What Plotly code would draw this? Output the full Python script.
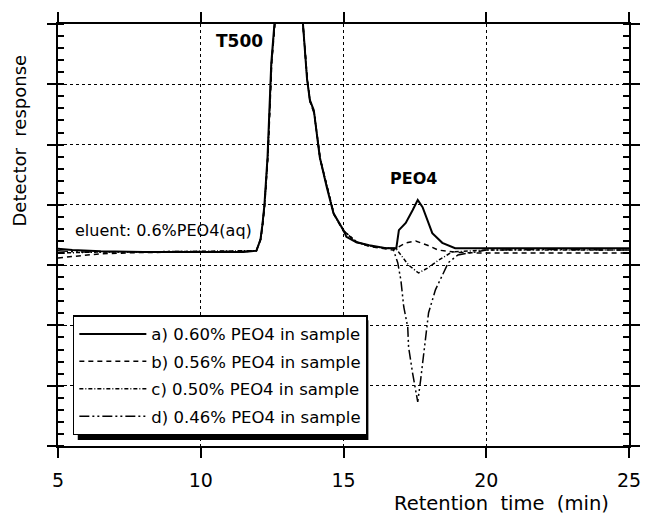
import plotly.graph_objects as go

# ---------------- data ----------------
# a) 0.60% PEO4 in sample  (solid)
time_a = [5.0, 5.5, 6.5, 8.0, 10.0, 11.5, 11.95, 12.09, 12.16, 12.23, 12.34, 12.42, 12.47, 12.58,
          12.8, 13.2, 13.58, 13.72, 13.82, 13.96, 14.17, 14.41, 14.65, 15.0, 15.1,
          15.45, 15.9, 16.49, 16.85, 16.94, 17.18, 17.42, 17.6, 17.77, 17.94, 18.11, 18.46, 18.91,
          20.0, 22.0, 25.0]
resp_a = [3.27, 3.25, 3.23, 3.22, 3.22, 3.22, 3.24, 3.42, 3.67, 4.0, 4.8, 5.6, 6.35, 7.0,
          7.6, 7.8, 7.0, 6.1, 5.74, 5.57, 4.79, 4.30, 3.86, 3.58, 3.47,
          3.38, 3.33, 3.28, 3.28, 3.58, 3.70, 3.91, 4.08, 3.96, 3.75, 3.53, 3.37, 3.28,
          3.28, 3.28, 3.28]

# b) 0.56% PEO4 in sample  (dashed)
time_b = [5.0, 5.6, 6.5, 8.0, 10.0, 11.5, 11.95, 12.11, 12.18, 12.25, 12.36, 12.43, 12.49, 12.6,
          13.0, 13.58, 13.74, 13.84, 13.98, 14.19, 14.43, 14.67, 15.0, 15.45, 15.9, 16.49,
          16.73, 17.18, 17.53, 17.94, 18.32, 19.0, 20.0, 22.0, 25.0]
resp_b = [3.12, 3.15, 3.19, 3.21, 3.22, 3.22, 3.24, 3.45, 3.7, 4.05, 4.85, 5.65, 6.38, 7.0,
          7.8, 7.0, 6.05, 5.7, 5.5, 4.75, 4.27, 3.84, 3.56, 3.39, 3.31, 3.26,
          3.25, 3.37, 3.40, 3.33, 3.25, 3.21, 3.2, 3.2, 3.2]

# c) 0.50% PEO4 in sample  (dash-dot)
time_c = [5.0, 5.6, 6.5, 8.0, 10.0, 11.5, 11.95, 12.1, 12.17, 12.24, 12.35, 12.43, 12.48, 12.59,
          13.0, 13.58, 13.73, 13.83, 13.97, 14.18, 14.42, 14.66, 15.0, 15.45, 15.9, 16.49,
          16.83, 17.08, 17.28, 17.63, 17.94, 18.32, 18.81, 20.0, 22.0, 25.0]
resp_c = [3.2, 3.21, 3.22, 3.22, 3.23, 3.23, 3.24, 3.43, 3.68, 4.02, 4.82, 5.62, 6.36, 7.0,
          7.8, 7.0, 6.08, 5.72, 5.54, 4.77, 4.29, 3.85, 3.57, 3.38, 3.32, 3.28,
          3.28, 3.13, 3.0, 2.87, 2.95, 3.08, 3.22, 3.25, 3.25, 3.25]

# d) 0.46% PEO4 in sample  (long dash-dot-dot)
time_d = [5.0, 5.6, 6.5, 8.0, 10.0, 11.5, 11.95, 12.1, 12.17, 12.24, 12.35, 12.43, 12.48, 12.59,
          13.0, 13.58, 13.73, 13.83, 13.97, 14.18, 14.42, 14.66, 15.0, 15.45, 15.9, 16.49,
          16.73, 16.9, 17.01, 17.11, 17.25, 17.28, 17.42, 17.53, 17.6, 17.7, 17.87, 17.98, 18.22,
          18.39, 18.67, 19.01, 20.0, 22.0, 25.0]
resp_d = [3.24, 3.22, 3.22, 3.22, 3.23, 3.23, 3.24, 3.44, 3.69, 4.03, 4.83, 5.63, 6.37, 7.0,
          7.8, 7.0, 6.07, 5.71, 5.53, 4.76, 4.29, 3.85, 3.57, 3.39, 3.32, 3.28,
          3.28, 3.04, 2.75, 2.31, 1.97, 1.64, 1.21, 0.88, 0.73, 1.09, 1.76, 2.21, 2.59,
          2.75, 3.04, 3.17, 3.25, 3.26, 3.25]

series_names = ["a) 0.60% PEO4 in sample", "b) 0.56% PEO4 in sample",
                "c) 0.50% PEO4 in sample", "d) 0.46% PEO4 in sample"]
x_ticks = [5, 10, 15, 20, 25]
x_tick_labels = ["5", "10", "15", "20", "25"]

# ---------------- figure ----------------
FONT = "DejaVu Sans"
styles = [
    dict(dash="solid", width=2.0),
    dict(dash="5px,4px", width=1.5),
    dict(dash="4px,2px,1px,2px", width=1.5),
    dict(dash="10px,3px,2px,3px,2px,3px", width=1.5),
]
xs = [time_a, time_b, time_c, time_d]
ys = [resp_a, resp_b, resp_c, resp_d]

fig = go.Figure()
for i in range(4):
    fig.add_trace(go.Scatter(
        x=xs[i], y=ys[i], mode="lines", name=series_names[i],
        legendgroup=f"g{i}",
        line=dict(color="black", dash=styles[i]["dash"], width=styles[i]["width"]),
    ))

axis_common = dict(
    showline=True, linecolor="black", linewidth=2, mirror="allticks",
    showgrid=True, gridcolor="black", gridwidth=1, griddash="dot",
    zeroline=False, ticks="outside", tickcolor="black",
)

fig.update_xaxes(
    **axis_common, range=[5, 25], tickvals=x_ticks, ticktext=x_tick_labels,
    ticklen=10, tickwidth=2, ticklabelstandoff=6,
    tickfont=dict(family=FONT, size=19, color="black"),
)
fig.update_yaxes(
    **axis_common, range=[0, 7], dtick=1, tick0=0, showticklabels=False,
    ticklen=9, tickwidth=1.5,
    minor=dict(ticks="inside", dtick=0.2, tick0=0, ticklen=6, tickwidth=1.5,
               tickcolor="black", showgrid=False),
)

fig.update_layout(
    width=653, height=519,
    margin=dict(l=58, r=17, t=24, b=73),
    paper_bgcolor="white", plot_bgcolor="white",
    font=dict(family=FONT, color="black"),
    showlegend=True,
    legend=dict(
        x=0.026, y=0.31, xanchor="left", yanchor="top",
        bgcolor="white", bordercolor="black", borderwidth=1.5,
        font=dict(family=FONT, size=16.5, color="black"),
        tracegroupgap=3, traceorder="grouped", itemwidth=67,
    ),
    shapes=[
        # drop shadow of the legend box
        dict(type="rect", xref="paper", yref="paper", x0=0.0346, x1=0.5436, y0=0.0142, y1=0.298,
             fillcolor="black", line=dict(width=0), layer="above"),
    ],
    annotations=[
        dict(text="T500", x=11.35, y=6.72, xref="x", yref="y", showarrow=False,
             font=dict(family=FONT, size=17, color="black", weight="bold")),
        dict(text="PEO4", x=17.46, y=4.43, xref="x", yref="y", showarrow=False,
             font=dict(family=FONT, size=16, color="black", weight="bold")),
        dict(text="eluent: 0.6%PEO4(aq)", x=5.52, y=3.58, xref="x", yref="y",
             xanchor="left", yanchor="middle", showarrow=False,
             font=dict(family=FONT, size=16, color="black")),
        dict(text="Detector  response", x=-0.0675, y=0.725, xref="paper", yref="paper",
             xanchor="center", yanchor="middle", textangle=-90, showarrow=False,
             font=dict(family=FONT, size=18, color="black")),
        dict(text="Retention  time  (min)", x=0.969, y=-0.137, xref="paper", yref="paper",
             xanchor="right", yanchor="middle", showarrow=False,
             font=dict(family=FONT, size=19.5, color="black")),
    ],
)

fig.write_html(
    "out.html",
    config={"displayModeBar": False},
    post_script="document.body.style.margin='0';"
                "document.documentElement.style.overflow='hidden';"
                "document.body.style.overflow='hidden';",
)
